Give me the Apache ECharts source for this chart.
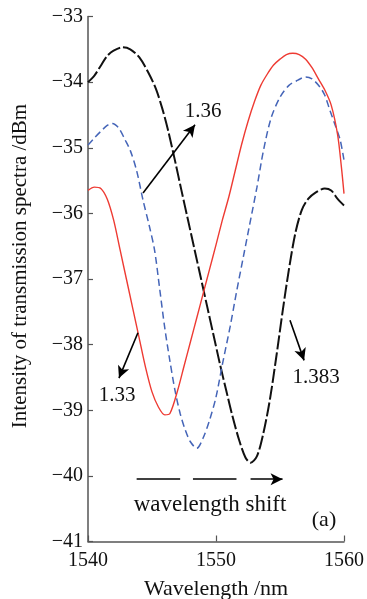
<!DOCTYPE html>
<html>
<head>
<meta charset="utf-8">
<script src="https://cdn.jsdelivr.net/npm/echarts@6/dist/echarts.min.js"></script>
<style>html,body{margin:0;padding:0;background:#fff;}#c{width:367px;height:599px;}</style>
</head>
<body>
<div id="c"></div>
<script>
// ---- data ----
const xTicks = [1540, 1550, 1560];
const yTicks = [-41, -40, -39, -38, -37, -36, -35, -34, -33];

const blackX = [1540,1540.5,1541,1541.5,1542,1542.7,1543.3,1544,1544.7,1545.3,1545.8,1546.25,1546.8,1547.3,1547.8,1548.3,1548.8,1549.3,1549.8,1550.3,1550.8,1551.3,1551.8,1552.3,1552.7,1553.2,1553.7,1554.2,1554.7,1555.2,1555.7,1556.2,1556.7,1557.2,1557.8,1558.5,1559.0,1559.5,1560];
const blackY = [-34.0,-33.9,-33.75,-33.6,-33.52,-33.47,-33.5,-33.62,-33.85,-34.1,-34.4,-34.73,-35.2,-35.65,-36.09,-36.53,-36.97,-37.41,-37.85,-38.29,-38.7,-39.1,-39.45,-39.72,-39.8,-39.7,-39.35,-38.85,-38.2,-37.5,-36.85,-36.3,-35.95,-35.78,-35.68,-35.62,-35.65,-35.78,-35.88];

const redX = [1540,1540.5,1541,1541.5,1542,1542.5,1543,1543.5,1544,1544.5,1545,1545.5,1546,1546.4,1547,1547.5,1548,1548.5,1549,1549.5,1550,1550.5,1551,1551.5,1552,1552.5,1553,1553.5,1554,1554.5,1555,1555.5,1556,1556.5,1557,1557.5,1558,1558.5,1559,1559.5,1559.8,1560];
const redY = [-35.65,-35.6,-35.62,-35.78,-36.1,-36.55,-37.0,-37.45,-37.9,-38.35,-38.72,-38.95,-39.07,-39.05,-38.7,-38.33,-37.96,-37.59,-37.22,-36.85,-36.48,-36.1,-35.75,-35.35,-34.95,-34.6,-34.3,-34.05,-33.88,-33.74,-33.65,-33.58,-33.56,-33.58,-33.65,-33.78,-33.95,-34.12,-34.35,-34.8,-35.3,-35.7];

const blueX = [1540,1540.5,1541,1541.5,1541.9,1542.4,1542.9,1543.3,1543.8,1544.3,1544.8,1545.2,1545.6,1546.0,1546.4,1546.8,1547.2,1547.6,1548.0,1548.5,1549.0,1549.5,1550.0,1550.5,1551.1,1551.6,1552.1,1552.6,1553.2,1553.7,1554.3,1555.0,1555.7,1556.4,1557.0,1557.5,1558.1,1558.5,1558.9,1559.3,1559.7,1560];
const blueY = [-34.96,-34.85,-34.75,-34.66,-34.63,-34.7,-34.88,-35.04,-35.35,-35.8,-36.2,-36.56,-37.15,-37.75,-38.25,-38.7,-39.05,-39.3,-39.48,-39.58,-39.42,-39.15,-38.8,-38.3,-37.73,-37.2,-36.7,-36.2,-35.6,-35.05,-34.55,-34.23,-34.05,-33.97,-33.92,-33.95,-34.07,-34.2,-34.43,-34.65,-34.88,-35.19];

// annotation arrows in data coordinates
const arrow136 = [[1544.3,-35.69],[1548.36,-34.65]];
const arrow133 = [[1543.9,-37.82],[1542.42,-38.51]];
const arrow1383 = [[1555.78,-37.63],[1556.88,-38.24]];
const shiftY = -40.05;
const shiftSegs = [[1543.8,1547.2],[1548.2,1551.6],[1552.7,1555.2]];

const zip = (xs, ys) => xs.map((x, i) => [x, ys[i]]);
const FONT = '"Liberation Serif", "DejaVu Serif", serif';
const fmtMinus = v => String(v).replace('-', '\u2212');

const arrowLines = [arrow136, arrow133, arrow1383].map(a => [
  {coord: a[0], symbol: 'none'}, {coord: a[1], symbol: 'arrow'}
]);
shiftSegs.forEach((s, i) => {
  arrowLines.push([
    {coord: [s[0], shiftY], symbol: 'none'},
    {coord: [s[1], shiftY], symbol: i === shiftSegs.length - 1 ? 'arrow' : 'none'}
  ]);
});

const chart = echarts.init(document.getElementById('c'), null, {renderer: 'canvas'});
chart.setOption({
  backgroundColor: '#ffffff',
  animation: false,
  grid: {left: 88, right: 23, top: 16.5, bottom: 57.5, containLabel: false, outerBoundsMode: 'none'},
  xAxis: {
    type: 'value', min: 1540, max: 1560, interval: 10,
    name: 'Wavelength /nm', nameLocation: 'middle', nameGap: 37,
    nameTextStyle: {fontFamily: FONT, fontSize: 22, color: '#111'},
    axisLine: {show: true, lineStyle: {color: '#555', width: 1.5}},
    axisTick: {show: true, inside: true, length: 6, lineStyle: {color: '#555', width: 1.2}},
    axisLabel: {fontFamily: FONT, fontSize: 20, color: '#111', margin: 9, formatter: v => String(v)},
    splitLine: {show: false}
  },
  yAxis: {
    type: 'value', min: -41, max: -33, interval: 1,
    axisLine: {show: true, lineStyle: {color: '#555', width: 1.5}},
    axisTick: {show: true, inside: true, length: 5, lineStyle: {color: '#555', width: 1.2}},
    axisLabel: {fontFamily: FONT, fontSize: 20, color: '#111', margin: 5, formatter: fmtMinus},
    splitLine: {show: false}
  },
  series: [
    {
      name: '1.383', type: 'line', data: zip(blackX, blackY), showSymbol: false, smooth: 0.3,
      lineStyle: {color: '#111', width: 2, type: [14, 3]}
    },
    {
      name: '1.36', type: 'line', data: zip(blueX, blueY), showSymbol: false, smooth: 0.3,
      lineStyle: {color: '#4565b8', width: 1.5, type: [7, 4]}
    },
    {
      name: '1.33', type: 'line', data: zip(redX, redY), showSymbol: false, smooth: 0.3,
      lineStyle: {color: '#ee3b33', width: 1.4}
    },
    {
      name: 'annotations', type: 'line', data: [],
      markLine: {
        silent: true, symbolSize: [9, 12], label: {show: false},
        lineStyle: {color: '#000', width: 1.6, type: 'solid'},
        data: arrowLines
      }
    }
  ],
  graphic: [
    {type: 'text', x: 20, y: 266, rotation: Math.PI / 2,
     style: {text: 'Intensity of transmission spectra /dBm', font: '21px ' + FONT, fill: '#111', align: 'center', verticalAlign: 'middle'}},
    {type: 'text', x: 203, y: 111, style: {text: '1.36', font: '21px ' + FONT, fill: '#111', align: 'center', verticalAlign: 'middle'}},
    {type: 'text', x: 117, y: 395, style: {text: '1.33', font: '21px ' + FONT, fill: '#111', align: 'center', verticalAlign: 'middle'}},
    {type: 'text', x: 316, y: 377, style: {text: '1.383', font: '21px ' + FONT, fill: '#111', align: 'center', verticalAlign: 'middle'}},
    {type: 'text', x: 210, y: 505, style: {text: 'wavelength shift', font: '23px ' + FONT, fill: '#111', align: 'center', verticalAlign: 'middle'}},
    {type: 'text', x: 324, y: 520, style: {text: '(a)', font: '22px ' + FONT, fill: '#111', align: 'center', verticalAlign: 'middle'}}
  ]
});
</script>
</body>
</html>
